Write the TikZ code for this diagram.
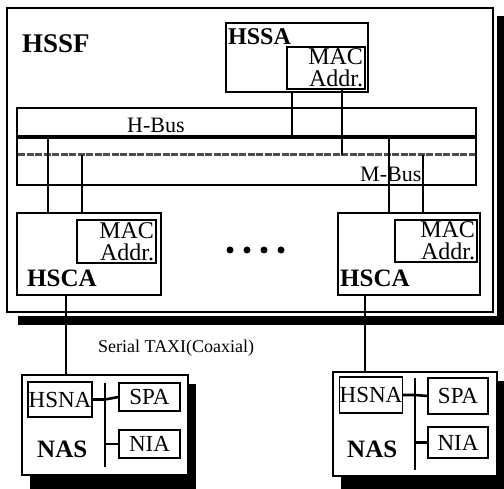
\documentclass[tikz,border=0pt]{standalone}
\usepackage{fontspec}
\setmainfont{Liberation Serif}
\usetikzlibrary{positioning,calc}

\begin{document}
\begin{tikzpicture}[
    x=1pt, y=-1pt,
    box/.style={draw,line width=1.1pt,fill=white,inner sep=0pt},
    macbox/.style={box,align=right,inner xsep=2pt,font=\fontsize{24}{22}\selectfont},
    unitbox/.style={box,font=\fontsize{23}{23}\selectfont},
    title/.style={inner sep=0pt,anchor=base west,font=\fontsize{25}{25}\selectfont\bfseries},
    buslabel/.style={inner sep=0pt,anchor=base west,font=\fontsize{22}{22}\selectfont},
    wire/.style={line width=1.2pt},
    hbus/.style={line width=4pt},
    mbus/.style={line width=3pt,draw=black!70,dash pattern=on 7pt off 1.5pt},
    stub/.style={line width=2.6pt},
    dot/.style={circle,fill=black,inner sep=0pt,minimum size=7pt}
]
    \useasboundingbox (0,0) rectangle (504,489);

    % HSSF frame with its shadow
    \fill[black] (18,16) rectangle (504,325);
    \fill[white] (7,8) rectangle (497,316);
    \node[box,minimum width=486pt,minimum height=304pt] (hssf) at (250,160) {};
    \node[title,font=\fontsize{27}{27}\selectfont\bfseries] (hssflbl) at (22,53) {HSSF};

    % HSSA
    \node[box,minimum width=142pt,minimum height=69pt] (hssa) at (297,57.5) {};
    \node[title,font=\fontsize{24}{24}\selectfont\bfseries] (hssalbl) at (228,45) {HSSA};
    \node[macbox,text width=74pt,minimum height=42pt] (hssamac) at (326,68) {MAC\\Addr.};

    % buses
    \node[box,minimum width=459pt,minimum height=77pt] (bus) at (246.5,146.5) {};
    \coordinate (hW) at (17,137);
    \coordinate (hE) at (476,137);
    \coordinate (mW) at (18,155);
    \coordinate (mE) at (475,155);
    \draw[hbus] (hW) -- (hE);
    \draw[mbus] (mW) -- (mE);
    \node[buslabel] (hbuslbl) at (127,133) {H-Bus};
    \node[buslabel] (mbuslbl) at (360,182) {M-Bus};

    % HSCA cards
    \node[box,minimum width=144pt,minimum height=82pt] (hsca1) at (89,254) {};
    \node[macbox,text width=75pt,minimum height=43pt] (mac1) at (116.5,241.5) {MAC\\Addr.};
    \node[title] (hsca1lbl) at (27,287) {HSCA};
    \node[box,minimum width=142pt,minimum height=82pt] (hsca2) at (409,254) {};
    \node[macbox,text width=78pt,minimum height=42pt] (mac2) at (436,241) {MAC\\Addr.};
    \node[title] (hsca2lbl) at (340,287) {HSCA};
    \node[dot] (d1) at (230,250) {};
    \node[dot] (d2) at (247,250) {};
    \node[dot] (d3) at (264,250) {};
    \node[dot] (d4) at (281,250) {};

    % taps onto the buses
    \coordinate (tapA) at (292,137);
    \coordinate (tapB) at (342,155);
    \coordinate (tapC) at (48,137);
    \coordinate (tapD) at (82,155);
    \coordinate (tapE) at (389,137);
    \coordinate (tapF) at (423,155);
    \draw[wire] (tapA |- hssa.south) -- (tapA);
    \draw[wire] (tapB |- hssamac.south) -- (tapB);
    \draw[wire] (tapC) -- (tapC |- hsca1.north);
    \draw[wire] (tapD) -- (tapD |- hsca1.north);
    \draw[wire] (tapE) -- (tapE |- hsca2.north);
    \draw[wire] (tapF) -- (tapF |- hsca2.north);

    % NAS boxes with shadows
    \fill[black] (30,384) rectangle (196,489);
    \node[box,minimum width=166pt,minimum height=100pt] (nas1) at (105,425) {};
    \fill[black] (341,381) rectangle (504,489);
    \node[box,minimum width=164pt,minimum height=104pt] (nas2) at (415,424) {};

    \node[unitbox,minimum width=64pt,minimum height=35pt] (hsna1) at (60,399.5) {HSNA};
    \node[unitbox,minimum width=61pt,minimum height=28pt] (spa1) at (149.5,397) {SPA};
    \node[unitbox,minimum width=61pt,minimum height=28pt] (nia1) at (149.5,444) {NIA};
    \node[title] (nas1lbl) at (37,457) {NAS};
    \coordinate (bar1t) at (105,383);
    \coordinate (bar1b) at (105,467);
    \draw[stub] (bar1t) -- (bar1b);
    \draw[stub] (hsna1.east) -- (hsna1.east -| bar1t) -- (spa1.west);
    \draw[stub] (nia1.west -| bar1t) -- (nia1.west);

    \node[unitbox,minimum width=62pt,minimum height=36pt] (hsna2) at (371,395) {HSNA};
    \node[unitbox,minimum width=60pt,minimum height=36pt] (spa2) at (458,396) {SPA};
    \node[unitbox,minimum width=60pt,minimum height=31pt] (nia2) at (458,442.5) {NIA};
    \node[title] (nas2lbl) at (347,457) {NAS};
    \coordinate (bar2t) at (415,378);
    \coordinate (bar2b) at (415,470);
    \draw[stub] (bar2t) -- (bar2b);
    \draw[stub] (hsna2.east) -- (hsna2.east -| bar2t) -- (spa2.west);
    \draw[stub] (nia2.west -| bar2t) -- (nia2.west);

    % serial links
    \coordinate (taxi1) at (66,335);
    \coordinate (taxi2) at (365,335);
    \draw[wire] (taxi1 |- hsca1.south) -- (taxi1 |- nas1.north);
    \draw[wire] (taxi2 |- hsca2.south) -- (taxi2 |- nas2.north);
    \node[buslabel,font=\fontsize{18}{18}\selectfont] (taxilbl) at (98,353) {Serial TAXI(Coaxial)};
\end{tikzpicture}
\end{document}
